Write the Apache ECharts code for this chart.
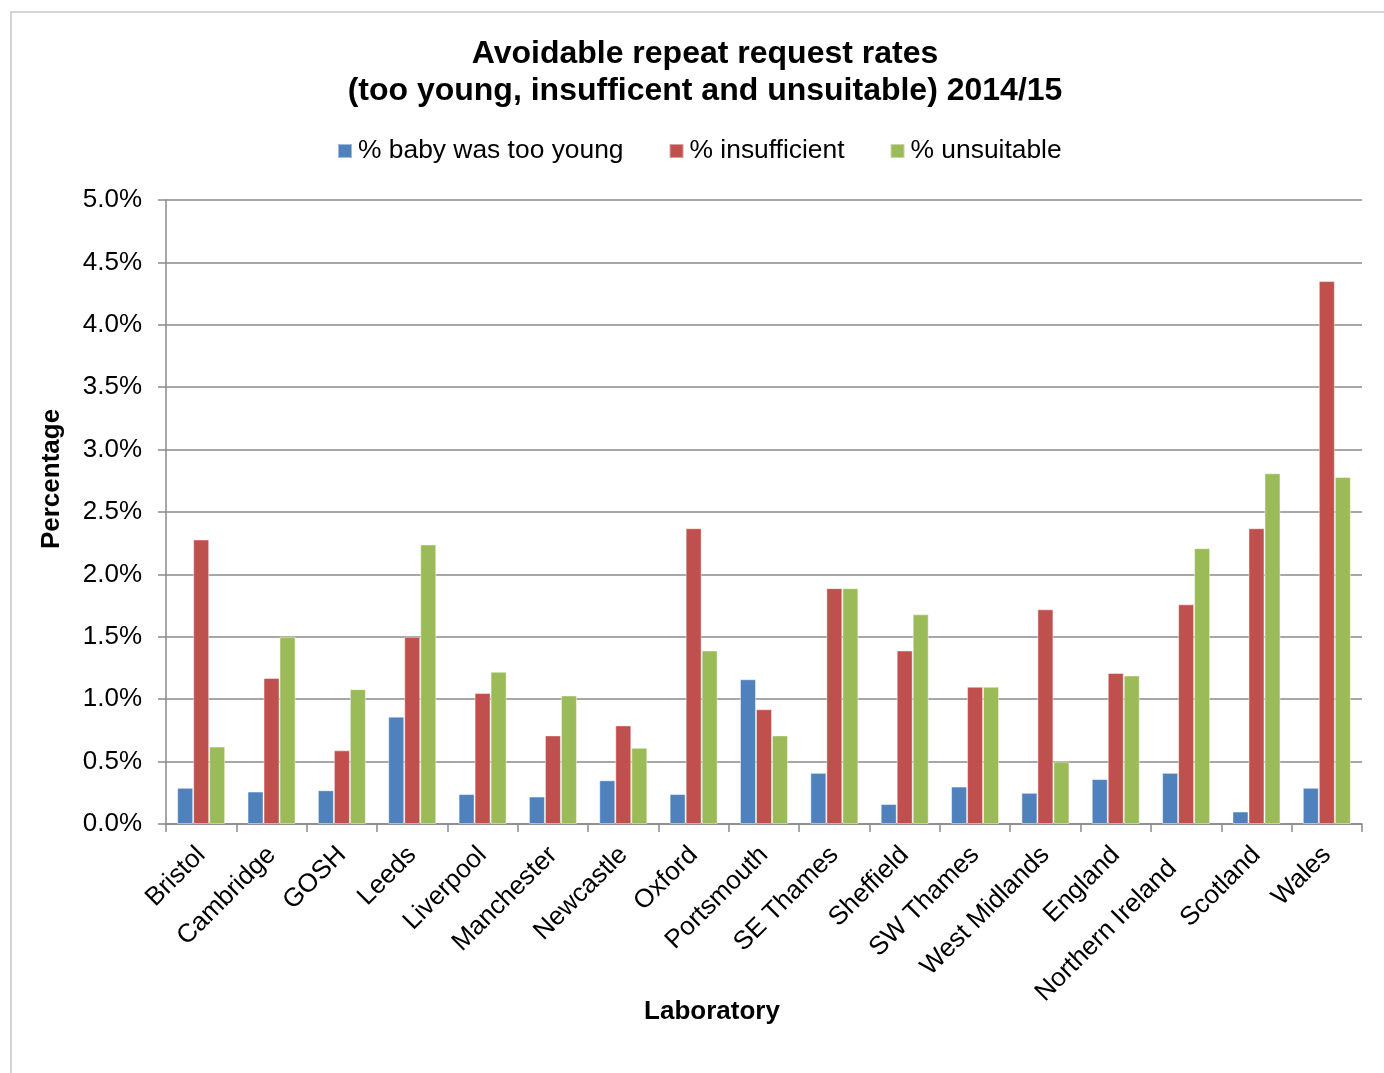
<!DOCTYPE html>
<html>
<head>
<meta charset="utf-8">
<title>Avoidable repeat request rates 2014/15</title>
<script src="https://cdn.jsdelivr.net/npm/echarts@6/dist/echarts.min.js"></script>
<style>
  html, body { margin: 0; padding: 0; background: #fff; }
  #chart { width: 1384px; height: 1073px; }
</style>
</head>
<body>
<div id="chart"></div>
<script>
// Laboratories along the category axis
const laboratories = [
  'Bristol', 'Cambridge', 'GOSH', 'Leeds', 'Liverpool', 'Manchester',
  'Newcastle', 'Oxford', 'Portsmouth', 'SE Thames', 'Sheffield',
  'SW Thames', 'West Midlands', 'England', 'Northern Ireland',
  'Scotland', 'Wales'
];

// Repeat request rates, in percent
const tooYoung = [0.29, 0.26, 0.27, 0.86, 0.24, 0.22, 0.35, 0.24, 1.16, 0.41, 0.16, 0.30, 0.25, 0.36, 0.41, 0.10, 0.29];
const insufficient = [2.28, 1.17, 0.59, 1.50, 1.05, 0.71, 0.79, 2.37, 0.92, 1.89, 1.39, 1.10, 1.72, 1.21, 1.76, 2.37, 4.35];
const unsuitable = [0.62, 1.50, 1.08, 2.24, 1.22, 1.03, 0.61, 1.39, 0.71, 1.89, 1.68, 1.10, 0.50, 1.19, 2.21, 2.81, 2.78];

const seriesNames = ['% baby was too young', '% insufficient', '% unsuitable'];
const seriesColors = ['#4F81BD', '#C0504D', '#9BBB59'];
const seriesData = [tooYoung, insufficient, unsuitable];

const FONT = '"Liberation Sans", Arial, sans-serif';
const GRID_GRAY = '#8a8a8a';

const chart = echarts.init(document.getElementById('chart'), null, { renderer: 'canvas' });

chart.setOption({
  backgroundColor: '#ffffff',
  animation: false,
  title: {
    text: 'Avoidable repeat request rates\n(too young, insufficent and unsuitable) 2014/15',
    left: 700,
    top: 31,
    textAlign: 'center',
    textStyle: {
      fontFamily: FONT,
      fontSize: 32,
      fontWeight: 'bold',
      color: '#000',
      lineHeight: 37
    }
  },
  legend: {
    data: seriesNames,
    left: 332,
    top: 133,
    itemWidth: 14,
    itemHeight: 14,
    itemGap: 45,
    icon: 'rect',
    textStyle: { fontFamily: FONT, fontSize: 26.4, color: '#000', padding: [0, 0, 0, 1] }
  },
  grid: {
    left: 166,
    right: 22,
    top: 200,
    bottom: 249,
    containLabel: false
  },
  xAxis: {
    type: 'category',
    data: laboratories,
    boundaryGap: true,
    axisLine: { show: true, lineStyle: { color: GRID_GRAY, width: 1.5 } },
    axisTick: { show: true, length: 8, alignWithLabel: false, lineStyle: { color: GRID_GRAY, width: 1.5 } },
    axisLabel: {
      rotate: 45,
      interval: 0,
      margin: 27,
      fontFamily: FONT,
      fontSize: 26,
      color: '#000',
      // the longest label sits a little further down its slant
      formatter: v => v.length > 14 ? '{long|' + v + '}' : v,
      rich: {
        long: { fontFamily: FONT, fontSize: 26, color: '#000', padding: [0, 19, 0, 0] }
      }
    }
  },
  yAxis: {
    type: 'value',
    min: 0,
    max: 5,
    interval: 0.5,
    axisLine: { show: true, lineStyle: { color: GRID_GRAY, width: 1.5 } },
    axisTick: { show: true, length: 8, lineStyle: { color: GRID_GRAY, width: 1.5 } },
    splitLine: { show: true, lineStyle: { color: GRID_GRAY, width: 1.5 } },
    axisLabel: {
      margin: 24,
      fontFamily: FONT,
      fontSize: 26,
      color: '#000',
      padding: [4, 0, 0, 0],
      formatter: v => v.toFixed(1) + '%'
    }
  },
  series: seriesData.map((data, i) => ({
    name: seriesNames[i],
    type: 'bar',
    data: data,
    barWidth: 16,
    barGap: '0%',
    itemStyle: {
      color: seriesColors[i],
      borderColor: 'rgba(255,255,255,0.45)',
      borderWidth: 1
    }
  })),
  graphic: [
    {
      // outer chart frame
      type: 'rect',
      shape: { x: 11, y: 12, width: 1400, height: 1100 },
      style: { fill: 'none', stroke: '#d4d4d4', lineWidth: 2 },
      silent: true
    },
    {
      type: 'text',
      x: 52,
      y: 479,
      rotation: Math.PI / 2,
      style: {
        text: 'Percentage',
        font: 'bold 26px ' + FONT,
        fill: '#000',
        align: 'center',
        verticalAlign: 'middle'
      }
    },
    {
      type: 'text',
      x: 712,
      y: 1012,
      style: {
        text: 'Laboratory',
        font: 'bold 26px ' + FONT,
        fill: '#000',
        align: 'center',
        verticalAlign: 'middle'
      }
    }
  ]
});
</script>
</body>
</html>
